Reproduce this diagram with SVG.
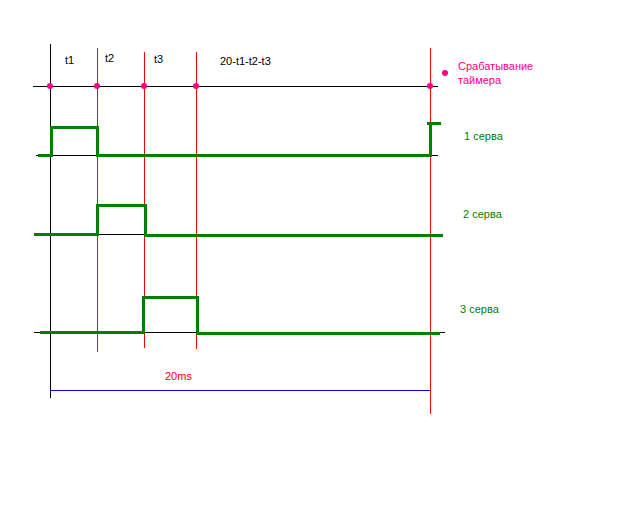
<svg xmlns="http://www.w3.org/2000/svg" width="640" height="512" viewBox="0 0 640 512">
<style>
.axis{stroke:#000;stroke-width:1;fill:none;shape-rendering:crispEdges}
.red{stroke:#ff0000;stroke-width:1;fill:none;shape-rendering:crispEdges}
.sig{stroke:#007f00;stroke-width:3;fill:none;stroke-linejoin:miter;shape-rendering:crispEdges}
.dot{fill:#ff0080}
text{font-family:"Liberation Sans",Arial,sans-serif;font-size:11px}
.lbl{fill:#000}
.g{fill:#008000}
.p{fill:#ff0080}
.r{fill:#ff0000}
</style>
<rect width="640" height="512" fill="#fff"/>
<g id="grid">
<line class="axis" x1="50" y1="44" x2="50" y2="398"/>
<line class="axis" x1="33" y1="86" x2="438" y2="86"/>
<line class="axis" x1="36" y1="155" x2="438" y2="155"/>
<line class="axis" x1="34" y1="234" x2="443" y2="234"/>
<line class="axis" x1="34" y1="332" x2="445" y2="332"/>
<line class="red" x1="97" y1="48" x2="97" y2="352"/>
<line class="red" x1="144" y1="52" x2="144" y2="348"/>
<line class="red" x1="196" y1="52" x2="196" y2="349"/>
<line class="red" x1="430" y1="48" x2="430" y2="414"/>
<line x1="50" y1="390" x2="430" y2="390" stroke="#0000ff" stroke-width="1" shape-rendering="crispEdges"/>
</g>
<g id="markers">
<circle class="dot" cx="50" cy="86" r="3"/>
<circle class="dot" cx="97" cy="86" r="3"/>
<circle class="dot" cx="144" cy="86" r="3"/>
<circle class="dot" cx="196" cy="86" r="3"/>
<circle class="dot" cx="430" cy="86" r="3"/>
<circle class="dot" cx="445" cy="73" r="3"/>
</g>
<g id="servo1">
<polyline class="sig" points="38,155 51,155 51,127 97,127 97,155 430,155 430,123"/>
<line class="sig" x1="427" y1="123" x2="441" y2="123"/>
</g>
<g id="servo2">
<polyline class="sig" points="34,234 97,234 97,205 145,205 145,235 443,235"/>
</g>
<g id="servo3">
<polyline class="sig" points="40,332 143,332 143,297 197,297 197,333 440,333"/>
</g>
<g id="labels">
<text class="lbl" x="65" y="64">t1</text>
<text class="lbl" x="105" y="62">t2</text>
<text class="lbl" x="154" y="63">t3</text>
<text class="lbl" x="220" y="65">20-t1-t2-t3</text>
<text class="p" x="458" y="70">Срабатывание</text>
<text class="p" x="458" y="84">таймера</text>
<text class="g" x="464" y="140">1 серва</text>
<text class="g" x="463" y="218">2 серва</text>
<text class="g" x="460" y="313">3 серва</text>
<text class="r" x="165" y="380">20ms</text>
</g>
</svg>
